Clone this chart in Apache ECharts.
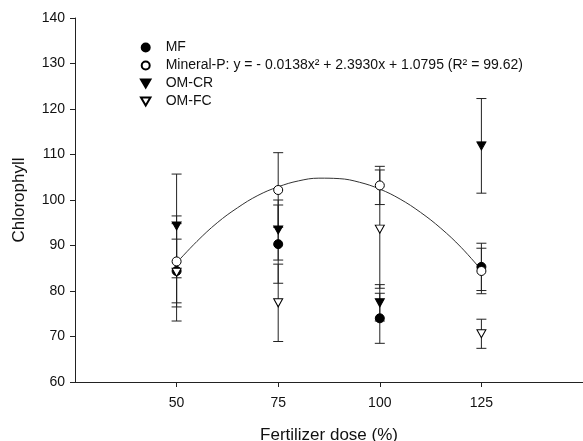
<!DOCTYPE html>
<html>
<head>
<meta charset="utf-8">
<script src="https://cdn.jsdelivr.net/npm/echarts@6/dist/echarts.min.js"></script>
<style>
html,body{margin:0;padding:0;background:#fff;}
#chart{width:583px;height:441px;}
</style>
</head>
<body>
<div id="chart"></div>
<script>
// ---- data ----
var doses = [50, 75, 100, 125];
var mfMean = [84.4, 90.3, 74.0, 85.3];
var mfErr = [7.0, 8.6, 5.5, 5.2];
var mineralMean = [86.5, 102.2, 103.2, 84.4];
var mineralErr = [10.0, 8.2, 4.2, 5.0];
var omcrMean = [94.3, 93.4, 77.4, 111.9];
var omcrErr = [11.4, 6.6, 4.0, 10.4];
var omfcMean = [84.1, 77.4, 93.6, 70.6];
var omfcErr = [10.7, 8.5, 13.0, 3.2];
// fitted curve for Mineral-P
var curveX = [50, 55, 60, 65, 70, 75, 80, 85, 90, 95, 100, 105, 110, 115, 120, 125];
var curveY = [86.2, 90.9, 95.0, 98.3, 101.0, 102.9, 104.2, 104.8, 104.7, 103.9, 102.4, 100.2, 97.3, 93.8, 89.6, 84.6];
var xTicks = [50, 75, 100, 125];
var seriesNames = ['MF', 'Mineral-P', 'OM-CR', 'OM-FC'];
var legendLabels = ['MF', 'Mineral-P: y = - 0.0138x² + 2.3930x + 1.0795 (R² = 99.62)', 'OM-CR', 'OM-FC'];
var xTitle = 'Fertilizer dose (%)';
var yTitle = 'Chlorophyll';

var FONT = 'Liberation Sans, Arial, Helvetica, sans-serif';
var downTri = 'path://M0,0L10,0L5,8.5Z';

function pairs(means) {
  return doses.map(function (d, i) { return [d, means[i]]; });
}
function errData(means, errs) {
  return doses.map(function (d, i) { return [d, means[i], errs[i]]; });
}
function errSeries(name, means, errs) {
  return {
    name: name,
    type: 'custom',
    z: 1,
    silent: true,
    data: errData(means, errs),
    renderItem: function (params, api) {
      var x = api.value(0), m = api.value(1), e = api.value(2);
      var top = api.coord([x, m + e]);
      var bot = api.coord([x, m - e]);
      var hw = 5;
      var st = { stroke: '#222', lineWidth: 1 };
      return {
        type: 'group',
        children: [
          { type: 'line', shape: { x1: top[0], y1: top[1], x2: bot[0], y2: bot[1] }, style: st },
          { type: 'line', shape: { x1: top[0] - hw, y1: top[1], x2: top[0] + hw, y2: top[1] }, style: st },
          { type: 'line', shape: { x1: bot[0] - hw, y1: bot[1], x2: bot[0] + hw, y2: bot[1] }, style: st }
        ]
      };
    }
  };
}

var chart = echarts.init(document.getElementById('chart'), null, { renderer: 'canvas' });
var option = {
  animation: false,
  backgroundColor: '#fff',
  textStyle: { fontFamily: FONT },
  grid: { left: 75, right: 0, top: 18, bottom: 59, containLabel: false, outerBoundsMode: 'none' },
  legend: {
    orient: 'vertical',
    left: 135,
    top: 35.5,
    itemWidth: 30,
    itemHeight: 8,
    itemGap: 4,
    symbolKeepAspect: true,
    data: seriesNames,
    formatter: function (name) { return legendLabels[seriesNames.indexOf(name)]; },
    textStyle: { fontFamily: FONT, fontSize: 14, color: '#111', lineHeight: 14 },
    selectedMode: false
  },
  xAxis: {
    type: 'value',
    min: 25, max: 150, interval: 25,
    name: xTitle,
    nameLocation: 'middle',
    nameGap: 45,
    nameTextStyle: { fontFamily: FONT, fontSize: 17, color: '#111' },
    axisLine: { show: true, lineStyle: { color: '#222', width: 1 } },
    axisTick: { show: true, inside: false, length: 5, customValues: xTicks, lineStyle: { color: '#222' } },
    axisLabel: { show: true, customValues: xTicks, margin: 14, fontSize: 14, color: '#111', fontFamily: FONT },
    splitLine: { show: false }
  },
  yAxis: {
    type: 'value',
    min: 60, max: 140, interval: 10,
    name: yTitle,
    nameLocation: 'middle',
    nameGap: 47,
    nameRotate: 90,
    nameTextStyle: { fontFamily: FONT, fontSize: 17, color: '#111' },
    axisLine: { show: true, lineStyle: { color: '#222', width: 1 } },
    axisTick: { show: true, inside: false, length: 5, lineStyle: { color: '#222' } },
    axisLabel: { margin: 10, fontSize: 14, color: '#111', fontFamily: FONT },
    splitLine: { show: false }
  },
  series: [
    {
      name: 'fit', type: 'line', z: 1, silent: true,
      data: curveX.map(function (x, i) { return [x, curveY[i]]; }),
      smooth: 0.4, showSymbol: false, symbol: 'none',
      lineStyle: { color: '#333', width: 1 }
    },
    errSeries('MF err', mfMean, mfErr),
    errSeries('Mineral-P err', mineralMean, mineralErr),
    errSeries('OM-CR err', omcrMean, omcrErr),
    errSeries('OM-FC err', omfcMean, omfcErr),
    {
      name: 'MF', type: 'scatter', z: 3, symbol: 'circle', symbolSize: 9,
      data: pairs(mfMean),
      itemStyle: { color: '#000', borderColor: '#000', borderWidth: 1, opacity: 1 }
    },
    {
      name: 'Mineral-P', type: 'scatter', z: 4, symbol: 'circle', symbolSize: 9,
      data: pairs(mineralMean),
      itemStyle: { color: '#fff', borderColor: '#000', borderWidth: 1, opacity: 1 }
    },
    {
      name: 'OM-CR', type: 'scatter', z: 5, symbol: downTri, symbolSize: [9, 8],
      data: pairs(omcrMean),
      itemStyle: { color: '#000', borderColor: '#000', borderWidth: 1, opacity: 1 }
    },
    {
      name: 'OM-FC', type: 'scatter', z: 6, symbol: downTri, symbolSize: [9, 8],
      data: pairs(omfcMean),
      itemStyle: { color: '#fff', borderColor: '#000', borderWidth: 1, opacity: 1 }
    }
  ]
};
chart.setOption(option);
</script>
</body>
</html>
